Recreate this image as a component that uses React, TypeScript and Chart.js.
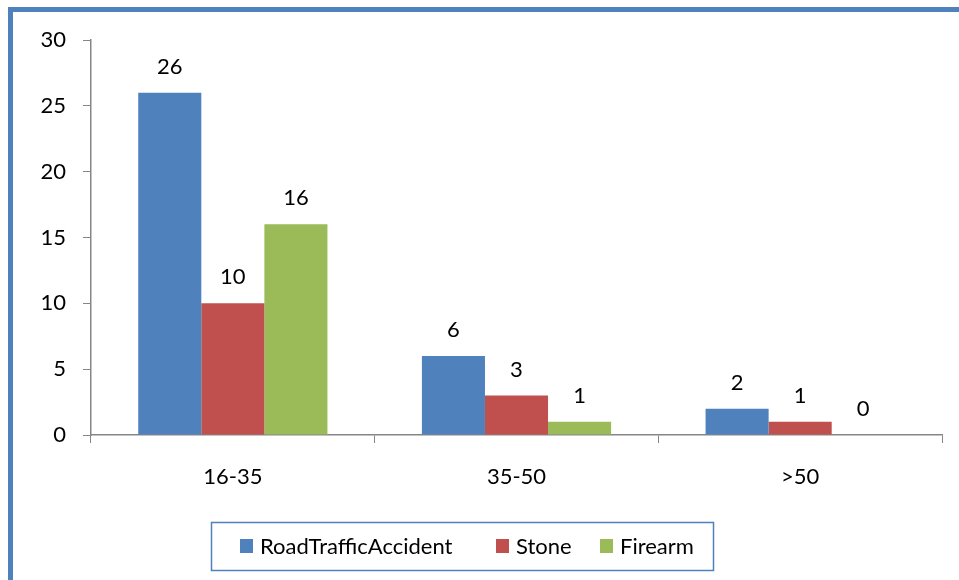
import React, { useEffect, useRef } from "react";
import { Chart, registerables } from "chart.js";

Chart.register(...registerables);

const categories = ["16-35", "35-50", ">50"];
const roadTraffic = [26, 6, 2];
const stone = [10, 3, 1];
const firearm = [16, 1, 0];
const seriesLabels = ["RoadTrafficAccident", "Stone", "Firearm"];
const seriesColors = ["#4F81BD", "#C0504D", "#9BBB59"];
const yTicks = { min: 0, max: 30, step: 5 };

const FONT = "Lato, 'Open Sans', sans-serif";
const FSIZE = 22;

const frameAndLegend = {
  id: "frameAndLegend",
  beforeDraw(chart: any) {
    const ctx = chart.ctx;
    ctx.save();
    ctx.fillStyle = "#ffffff";
    ctx.fillRect(0, 0, chart.width, chart.height);
    ctx.strokeStyle = "#4F81BD";
    ctx.lineWidth = 5;
    ctx.strokeRect(10.5, 9.5, chart.width + 50, chart.height + 50);
    ctx.restore();
  },
  afterDraw(chart: any) {
    const ctx = chart.ctx;
    ctx.save();
    const bx = 211, by = 522, bw = 502, bh = 48;
    ctx.strokeStyle = "#4F81BD";
    ctx.lineWidth = 1.5;
    ctx.strokeRect(bx + 0.5, by + 0.5, bw, bh);
    const starts = [240, 496, 600];
    ctx.font = `${FSIZE}px ${FONT}`;
    ctx.textBaseline = "middle";
    ctx.textAlign = "left";
    chart.data.datasets.forEach((ds: any, i: number) => {
      const x = starts[i];
      ctx.fillStyle = ds.backgroundColor;
      ctx.fillRect(x, 539, 13, 14);
      ctx.fillStyle = "#000";
      ctx.fillText(ds.label, x + 20, 547);
    });
    ctx.restore();
  },
};

const valueLabels = {
  id: "valueLabels",
  afterDatasetsDraw(chart: any) {
    const ctx = chart.ctx;
    ctx.save();
    ctx.font = `${FSIZE}px ${FONT}`;
    ctx.fillStyle = "#000";
    ctx.textAlign = "center";
    ctx.textBaseline = "middle";
    chart.data.datasets.forEach((ds: any, i: number) => {
      const meta = chart.getDatasetMeta(i);
      meta.data.forEach((el: any, j: number) => {
        ctx.fillText(String(ds.data[j]), el.x, el.y - 26);
      });
    });
    ctx.restore();
  },
};

export default function App() {
  const ref = useRef<HTMLCanvasElement>(null);
  useEffect(() => {
    if (!ref.current) return;
    const data = [roadTraffic, stone, firearm];
    const chart = new Chart(ref.current, {
      type: "bar",
      data: {
        labels: categories,
        datasets: data.map((d, i) => ({
          label: seriesLabels[i],
          data: d,
          backgroundColor: seriesColors[i],
          borderWidth: 0,
          barPercentage: 1,
          categoryPercentage: 0.667,
        })),
      },
      options: {
        animation: false,
        responsive: false,
        devicePixelRatio: 1,
        layout: { padding: { top: 40, right: 17, left: 0, bottom: 0 } },
        plugins: {
          legend: { display: false },
          tooltip: { enabled: false },
        },
        scales: {
          x: {
            grid: {
              display: true,
              drawOnChartArea: false,
              drawTicks: true,
              tickLength: 8,
              color: "#868686",
              offset: true,
            },
            border: { display: true, color: "#868686", width: 1.5 },
            ticks: {
              color: "#000",
              font: { family: FONT, size: FSIZE },
              padding: 21,
            },
            afterFit(scale: any) {
              scale.height = 145;
            },
          },
          y: {
            min: yTicks.min,
            max: yTicks.max,
            grid: {
              display: true,
              drawOnChartArea: false,
              drawTicks: true,
              tickLength: 8,
              color: "#868686",
            },
            border: { display: true, color: "#868686", width: 1.5 },
            ticks: {
              stepSize: yTicks.step,
              color: "#000",
              font: { family: FONT, size: FSIZE },
              padding: 17,
            },
            afterFit(scale: any) {
              scale.width = 91;
            },
          },
        },
      },
      plugins: [frameAndLegend, valueLabels],
    });
    return () => chart.destroy();
  }, []);
  return (
    <div style={{ position: "fixed", left: 0, top: 0, width: 959, height: 580 }}>
      <canvas ref={ref} width={959} height={580} />
    </div>
  );
}
